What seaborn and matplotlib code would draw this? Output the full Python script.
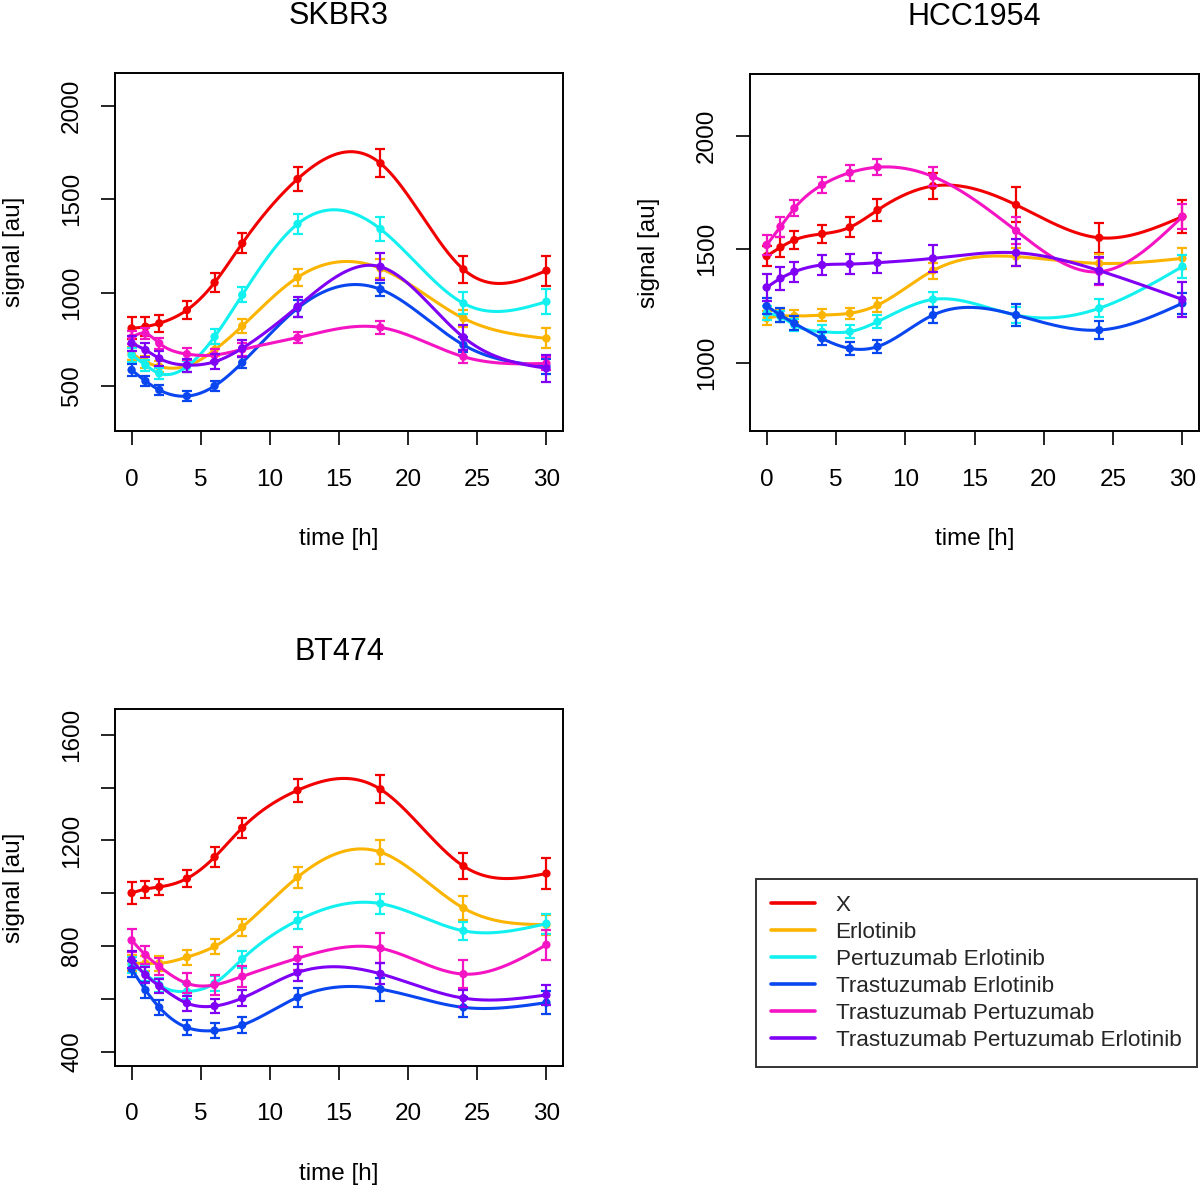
import numpy as np
import pandas as pd
import matplotlib
matplotlib.use('Agg')
import matplotlib.pyplot as plt
from matplotlib.lines import Line2D
import seaborn as sns

# time points [h]
time = [0, 1, 2, 4, 6, 8, 12, 18, 24, 30]

treatments = ['X', 'Erlotinib', 'Pertuzumab Erlotinib', 'Trastuzumab Erlotinib',
              'Trastuzumab Pertuzumab', 'Trastuzumab Pertuzumab Erlotinib']
colors = ['#F20000', '#FBB400', '#12F0F0', '#0A46F0', '#F514C4', '#7F00F5']

# SKBR3 means / errors
skbr3_mean = [
    [809, 818, 836, 907, 1054, 1264, 1609, 1693, 1125, 1118],
    [675, 630, 604, 607, 693, 821, 1082, 1130, 863, 755],
    [666, 612, 568, 604, 764, 988, 1368, 1341, 943, 952],
    [586, 527, 479, 446, 500, 625, 916, 1018, 720, 607],
    [760, 782, 729, 671, 666, 696, 759, 814, 657, 621],
    [729, 693, 648, 612, 630, 702, 925, 1139, 761, 595],
]
skbr3_err = [
    [59, 50, 45, 46, 49, 54, 64, 75, 71, 80],
    [35, 33, 30, 30, 32, 36, 44, 50, 45, 54],
    [35, 30, 30, 30, 40, 40, 55, 62, 59, 66],
    [30, 28, 25, 25, 28, 30, 45, 36, 40, 40],
    [35, 30, 30, 30, 30, 35, 29, 36, 35, 35],
    [40, 40, 40, 35, 40, 45, 54, 71, 68, 71],
]

# HCC1954
hcc_mean = [
    [1470, 1509, 1541, 1568, 1597, 1673, 1779, 1696, 1551, 1644],
    [1196, 1206, 1206, 1210, 1218, 1254, 1406, 1468, 1438, 1460],
    [1218, 1203, 1166, 1137, 1137, 1181, 1279, 1210, 1240, 1424],
    [1250, 1210, 1174, 1107, 1063, 1071, 1210, 1210, 1144, 1262],
    [1519, 1600, 1681, 1784, 1838, 1862, 1821, 1582, 1401, 1644],
    [1332, 1372, 1401, 1431, 1435, 1441, 1460, 1485, 1406, 1279],
]
hcc_err = [
    [44, 44, 40, 40, 44, 47, 59, 77, 66, 72],
    [30, 25, 25, 25, 25, 30, 35, 40, 40, 47],
    [30, 25, 25, 30, 30, 30, 35, 35, 40, 51],
    [37, 30, 30, 30, 30, 30, 37, 47, 40, 47],
    [44, 44, 35, 35, 35, 35, 44, 59, 59, 55],
    [59, 50, 44, 44, 44, 44, 61, 59, 60, 76],
]

# BT474
bt474_mean = [
    [1001, 1016, 1024, 1056, 1137, 1248, 1390, 1394, 1103, 1075],
    [735, 735, 735, 758, 799, 872, 1061, 1156, 944, 881],
    [729, 695, 653, 628, 659, 751, 897, 961, 858, 885],
    [713, 634, 568, 492, 480, 501, 606, 637, 568, 586],
    [822, 767, 723, 659, 653, 685, 754, 792, 694, 805],
    [748, 691, 649, 584, 573, 603, 700, 695, 603, 615],
]
bt474_err = [
    [41, 32, 32, 32, 38, 38, 44, 53, 48, 57],
    [30, 28, 28, 28, 28, 32, 40, 44, 44, 38],
    [30, 28, 28, 28, 28, 32, 32, 38, 35, 38],
    [30, 30, 28, 28, 28, 30, 35, 44, 38, 44],
    [44, 35, 32, 38, 38, 38, 44, 57, 53, 57],
    [32, 30, 28, 28, 28, 30, 32, 40, 32, 38],
]

panels = ['SKBR3', 'HCC1954', 'BT474']
means = [skbr3_mean, hcc_mean, bt474_mean]
errs = [skbr3_err, hcc_err, bt474_err]
ylims = [(259, 2177), (699, 2273), (346, 1698)]
yticks = [[500, 1000, 1500, 2000], [1000, 1500, 2000], [400, 600, 800, 1000, 1200, 1400, 1600]]


def natural_spline(x, y, xs):
    x = np.asarray(x, float)
    y = np.asarray(y, float)
    n = len(x)
    h = np.diff(x)
    A = np.zeros((n, n))
    b = np.zeros(n)
    A[0, 0] = A[-1, -1] = 1
    for i in range(1, n - 1):
        A[i, i - 1] = h[i - 1]
        A[i, i] = 2 * (h[i - 1] + h[i])
        A[i, i + 1] = h[i]
        b[i] = 6 * ((y[i + 1] - y[i]) / h[i] - (y[i] - y[i - 1]) / h[i - 1])
    M = np.linalg.solve(A, b)
    idx = np.clip(np.searchsorted(x, xs) - 1, 0, n - 2)
    x0, x1 = x[idx], x[idx + 1]
    hh = x1 - x0
    a = (x1 - xs) / hh
    c = (xs - x0) / hh
    return (a * y[idx] + c * y[idx + 1]
            + ((a ** 3 - a) * M[idx] + (c ** 3 - c) * M[idx + 1]) * hh ** 2 / 6)


sns.set_theme(style='white')
plt.rcParams['font.family'] = ['Liberation Sans', 'DejaVu Sans']

fig = plt.figure(figsize=(12, 11.87), dpi=100)
positions = [
    [115 / 1200, 1 - 431 / 1187, 448 / 1200, 358 / 1187],
    [750 / 1200, 1 - 431 / 1187, 449 / 1200, 357 / 1187],
    [115 / 1200, 1 - 1066 / 1187, 448 / 1200, 357 / 1187],
]
tgrid = np.linspace(0, 30, 301)

for p, name in enumerate(panels):
    ax = fig.add_axes(positions[p])
    rows = []
    for k, tr in enumerate(treatments):
        curve = natural_spline(time, means[p][k], tgrid)
        rows.append(pd.DataFrame({'time': tgrid, 'signal': curve, 'treatment': tr}))
    df_curve = pd.concat(rows, ignore_index=True)
    df_pts = pd.DataFrame({
        'time': np.tile(time, len(treatments)),
        'signal': np.concatenate(means[p]),
        'err': np.concatenate(errs[p]),
        'treatment': np.repeat(treatments, len(time)),
    })

    for k, tr in enumerate(treatments):
        sub = df_pts[df_pts.treatment == tr]
        ax.errorbar(sub.time, sub.signal, yerr=sub.err, fmt='none', ecolor=colors[k],
                    elinewidth=1.6, capsize=3.5, capthick=1.6, zorder=2 + k)
        sns.lineplot(data=df_curve[df_curve.treatment == tr], x='time', y='signal',
                     color=colors[k], linewidth=2.2, ax=ax, legend=False, zorder=2 + k)
        sns.scatterplot(data=sub, x='time', y='signal', color=colors[k], s=36,
                        edgecolor='none', ax=ax, legend=False, zorder=3 + k)

    ax.set_xlim(-1.2, 31.2)
    ax.set_ylim(*ylims[p])
    ax.set_xticks([0, 5, 10, 15, 20, 25, 30])
    ax.set_yticks(yticks[p])
    if p == 2:
        ax.set_yticklabels([str(v) if v % 400 == 0 else '' for v in yticks[p]])
    ax.tick_params(axis='both', which='both', direction='out', length=10, width=1.2,
                   color='black', labelsize=17.5, labelcolor='black', bottom=True, left=True)
    ax.tick_params(axis='x', pad=17)
    ax.tick_params(axis='y', pad=13, labelrotation=90)
    for lab in ax.get_yticklabels():
        lab.set_va('center')
    for sp in ax.spines.values():
        sp.set_color('black')
        sp.set_linewidth(1.4)
    ax.set_title(name, fontsize=22, pad=35, color='black')
    ax.set_xlabel('time [h]', fontsize=17.5, color='black')
    ax.set_ylabel('signal [au]', fontsize=17.5, color='black')
    ax.xaxis.set_label_coords(0.5, -0.272)
    ax.yaxis.set_label_coords(-0.200, 0.5)

handles = [Line2D([0], [0], color=c, lw=2.6) for c in colors]
leg = fig.legend(handles, treatments, loc='lower right',
                 bbox_to_anchor=(1197 / 1200, 1 - 1067 / 1187), borderaxespad=0,
                 fontsize=16.2, frameon=True, fancybox=False, edgecolor='black',
                 handlelength=1.95, handletextpad=0.9, labelspacing=0.27,
                 borderpad=0.7)
leg.get_frame().set_linewidth(1.4)

fig.savefig('out.png', dpi=100, facecolor='white')
